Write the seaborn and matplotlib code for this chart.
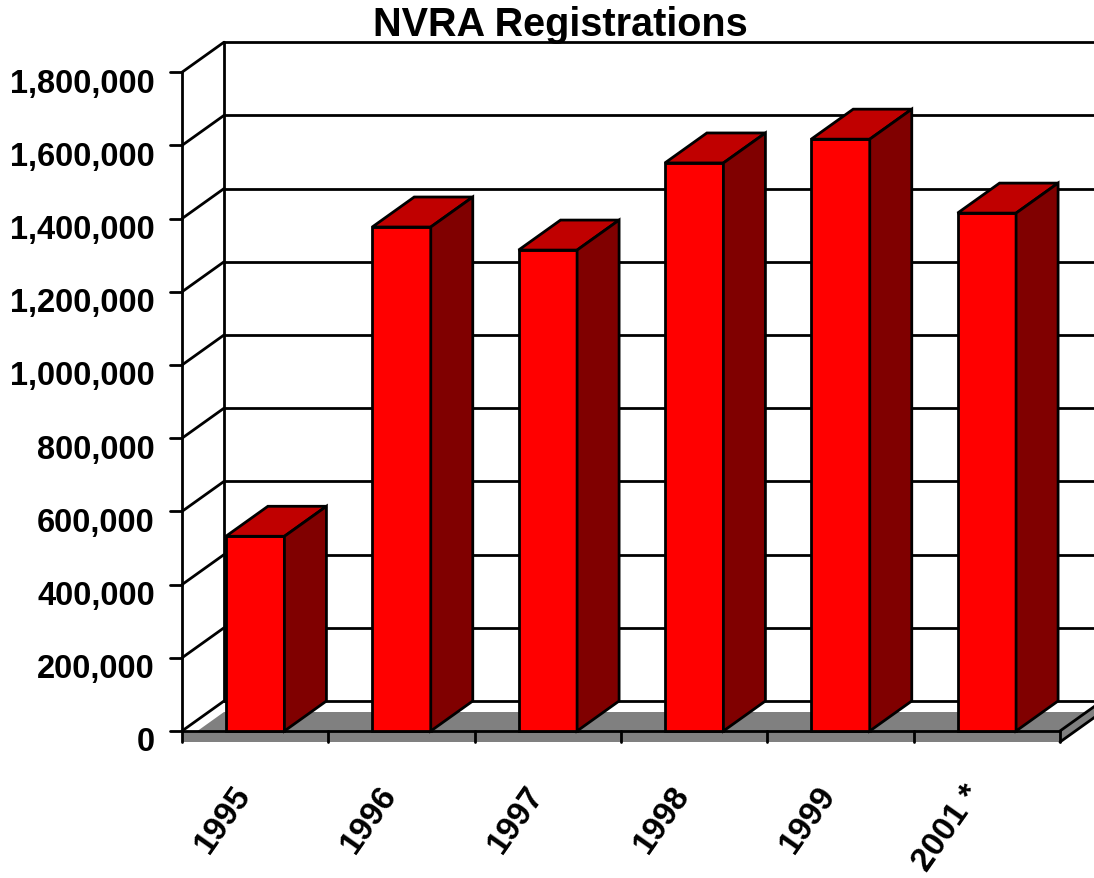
import matplotlib
matplotlib.use("Agg")
import matplotlib.pyplot as plt
import seaborn as sns
import pandas as pd
import numpy as np

# datos del grafico
years = ["1995", "1996", "1997", "1998", "1999", "2001 *"]
registrations = [532000, 1377000, 1314000, 1552000, 1617000, 1415000]
y_ticks = list(range(0, 1800001, 200000))
y_tick_labels = [f"{v:,}" for v in y_ticks]
title = "NVRA Registrations"

sns.set_style("white")
plt.rcParams["font.family"] = ["Liberation Sans", "DejaVu Sans"]
plt.rcParams["text.color"] = "black"

df = pd.DataFrame({"year": years, "value": registrations})

# escala: pixeles por categoria / por unidad
PX_CAT = 146.33
PX_VAL = 73.2 / 200000
DX = 42 / PX_CAT          # profundidad 3D en x
DY = 30 / PX_VAL          # profundidad 3D en y
SLAB = 11 / PX_VAL        # grosor del suelo
TICK = 12 / PX_CAT
BAR_W = 0.4
LW = 2.0

fig = plt.figure(figsize=(10.94, 8.79), dpi=100)
ax = fig.add_axes([0, 0, 1, 1])

x0 = -0.5
x1 = len(years) - 0.5
xmin, xmax = x0 - 182 / PX_CAT, x0 + 912 / PX_CAT
ymin, ymax = -147 / PX_VAL, 732 / PX_VAL

# suelo gris
gray = "#808080"
ax.fill([x0, x1, x1 + DX, x0 + DX], [-SLAB, -SLAB, DY - SLAB, DY - SLAB], color=gray, lw=0, zorder=1)
ax.fill([x0, x1, x1, x0], [-SLAB, -SLAB, 0, 0], color=gray, lw=0, zorder=1)
ax.fill([x1, x1, x1 + DX, x1 + DX], [-SLAB, 0, DY, DY - SLAB], color=gray, lw=0, zorder=1)

# paredes y rejilla
for v in y_ticks:
    ax.plot([x0, x0 + DX], [v, v + DY], color="black", lw=LW, zorder=2)
    ax.plot([x0 + DX, xmax + 1], [v + DY, v + DY], color="black", lw=LW, zorder=2)
    ax.plot([x0 - TICK, x0], [v, v], color="black", lw=LW, zorder=2)
ax.plot([x0, x0], [0, y_ticks[-1]], color="black", lw=LW, zorder=2)
ax.plot([x0 + DX, x0 + DX], [DY, y_ticks[-1] + DY], color="black", lw=LW, zorder=2)

# borde frontal del suelo
ax.plot([x0, x1], [0, 0], color="black", lw=LW, zorder=4)
for xb in np.arange(x0, x1 + 0.01, 1):
    ax.plot([xb, xb], [0, -SLAB], color="black", lw=LW, zorder=4)
ax.plot([x1, x1 + DX], [0, DY], color="black", lw=LW, zorder=4)
ax.plot([x1, x1 + DX], [-SLAB, DY - SLAB], color="black", lw=LW, zorder=4)

# barras frontales
sns.barplot(data=df, x="year", y="value", width=BAR_W, color="#FF0000",
            saturation=1, edgecolor="black", linewidth=LW, ax=ax, zorder=5)

# caras superior y lateral
for i, v in enumerate(registrations):
    l, r = i - BAR_W / 2, i + BAR_W / 2
    ax.fill([l, r, r + DX, l + DX], [v, v, v + DY, v + DY],
            facecolor="#C00000", edgecolor="black", lw=LW, zorder=5)
    ax.fill([r, r + DX, r + DX, r], [0, DY, v + DY, v],
            facecolor="#800000", edgecolor="black", lw=LW, zorder=5)

# etiquetas
for v, lab in zip(y_ticks, y_tick_labels):
    ax.text(x0 - 27 / PX_CAT, v - 11 / PX_VAL, lab, ha="right", va="center",
            fontsize=23.5, fontweight="bold", color="black")
for i, lab in enumerate(years):
    ax.text(i - 4 / PX_CAT, -62 / PX_VAL, lab, ha="right", va="baseline",
            rotation=55, rotation_mode="anchor", fontsize=24, fontweight="bold",
            color="black")

fig.text(560 / 1094, 1 - 36 / 879, title, ha="center", va="baseline",
         fontsize=28.5, fontweight="bold", color="black")

ax.set_xlim(xmin, xmax)
ax.set_ylim(ymin, ymax)
ax.set_axis_off()

fig.savefig("out.png", dpi=100)
